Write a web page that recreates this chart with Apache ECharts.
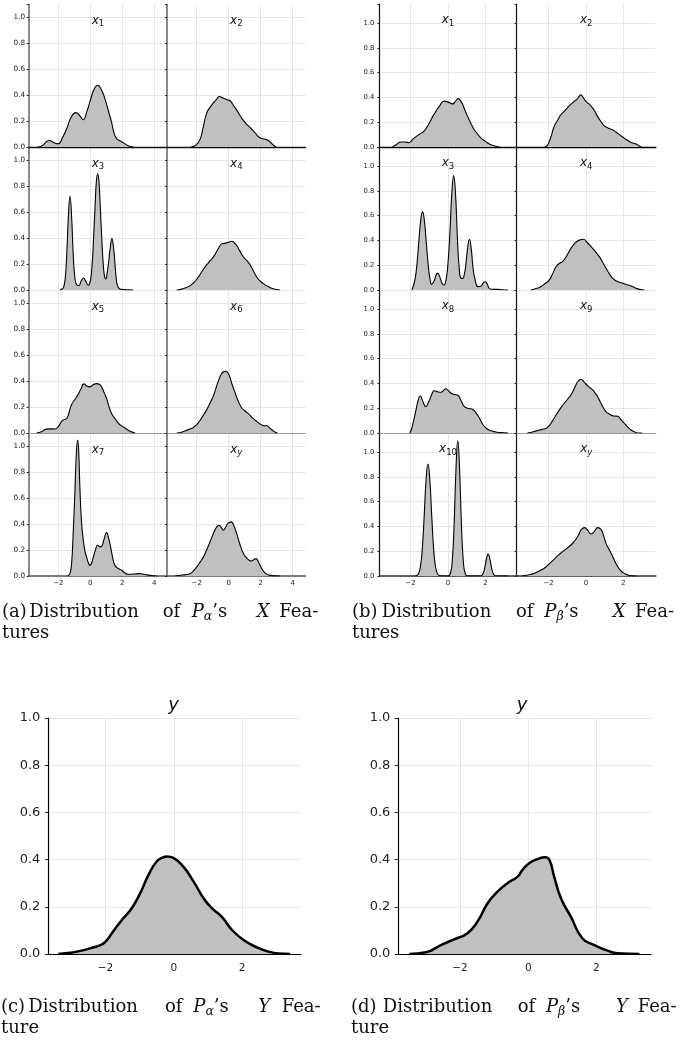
<!DOCTYPE html>
<html>
<head>
<meta charset="utf-8">
<title>Feature distributions</title>
<script src="https://cdn.jsdelivr.net/npm/echarts@6.0.0/dist/echarts.min.js"></script>
<style>
  html, body { margin: 0; padding: 0; background: #fff; }
  #main { width: 682px; height: 1043px; }
</style>
</head>
<body>
<div id="main"></div>
<script>
var chart = echarts.init(document.getElementById('main'));

// density curves, each point is [x, density]
var alphaX1 = [[-3.3,0],[-3.0,0.01],[-2.75,0.04],[-2.55,0.05],[-2.3,0.035],[-2.0,0.025],[-1.75,0.07],[-1.48,0.14],[-1.2,0.23],[-0.9,0.265],[-0.65,0.24],[-0.45,0.21],[-0.2,0.28],[0,0.36],[0.25,0.45],[0.46,0.477],[0.7,0.44],[0.92,0.37],[1.15,0.27],[1.33,0.19],[1.5,0.1],[1.65,0.065],[1.9,0.045],[2.1,0.03],[2.4,0.008],[2.7,0]];
var alphaX2 = [[-2.35,0],[-2.1,0.01],[-1.8,0.055],[-1.6,0.15],[-1.38,0.26],[-1.15,0.31],[-0.96,0.34],[-0.75,0.37],[-0.6,0.39],[-0.4,0.38],[-0.1,0.365],[0.1,0.355],[0.3,0.32],[0.5,0.285],[0.75,0.235],[1.02,0.19],[1.3,0.155],[1.5,0.13],[1.65,0.11],[1.85,0.08],[2.06,0.065],[2.3,0.06],[2.48,0.05],[2.7,0.025],[2.95,0]];
var alphaX3 = [[-1.9,0],[-1.75,0.01],[-1.67,0.02],[-1.57,0.085],[-1.47,0.28],[-1.37,0.57],[-1.27,0.724],[-1.17,0.57],[-1.07,0.28],[-0.97,0.1],[-0.87,0.045],[-0.72,0.035],[-0.55,0.075],[-0.42,0.093],[-0.28,0.065],[-0.12,0.035],[0.0,0.07],[0.1,0.17],[0.2,0.39],[0.3,0.65],[0.38,0.84],[0.46,0.897],[0.54,0.84],[0.62,0.65],[0.72,0.39],[0.82,0.18],[0.9,0.1],[0.97,0.085],[1.05,0.13],[1.15,0.22],[1.25,0.33],[1.35,0.397],[1.45,0.33],[1.55,0.19],[1.65,0.06],[1.75,0.02],[1.9,0.005],[2.7,0]];
var alphaX4 = [[-3.25,0],[-3.0,0.005],[-2.73,0.015],[-2.45,0.03],[-2.2,0.054],[-1.95,0.09],[-1.79,0.12],[-1.5,0.175],[-1.27,0.21],[-1.05,0.24],[-0.85,0.275],[-0.6,0.33],[-0.44,0.356],[-0.2,0.362],[0.0,0.368],[0.19,0.376],[0.35,0.365],[0.5,0.343],[0.7,0.3],[0.92,0.255],[1.15,0.225],[1.33,0.196],[1.55,0.145],[1.75,0.1],[1.95,0.07],[2.17,0.049],[2.45,0.028],[2.69,0.013],[2.95,0.004],[3.2,0]];
var alphaX5 = [[-3.35,0],[-3.05,0.01],[-2.75,0.03],[-2.45,0.032],[-2.2,0.031],[-2.0,0.05],[-1.79,0.09],[-1.6,0.105],[-1.45,0.115],[-1.3,0.17],[-1.17,0.22],[-0.95,0.26],[-0.75,0.3],[-0.55,0.35],[-0.4,0.379],[-0.2,0.36],[-0.02,0.356],[0.2,0.375],[0.4,0.381],[0.58,0.375],[0.71,0.355],[0.87,0.31],[1.02,0.265],[1.18,0.2],[1.33,0.15],[1.55,0.11],[1.75,0.077],[1.95,0.055],[2.17,0.039],[2.45,0.015],[2.8,0]];
var alphaX6 = [[-3.25,0],[-2.9,0.008],[-2.52,0.026],[-2.25,0.04],[-2.0,0.064],[-1.7,0.115],[-1.38,0.18],[-1.15,0.235],[-0.96,0.285],[-0.8,0.345],[-0.65,0.4],[-0.5,0.445],[-0.37,0.469],[-0.2,0.476],[-0.1,0.472],[0.05,0.44],[0.2,0.38],[0.4,0.31],[0.6,0.245],[0.81,0.195],[1.02,0.17],[1.23,0.15],[1.5,0.115],[1.75,0.09],[1.95,0.07],[2.17,0.057],[2.38,0.056],[2.55,0.04],[2.7,0.025],[2.85,0.01],[3.05,0]];
var alphaX7 = [[-1.4,0],[-1.27,0.02],[-1.17,0.095],[-1.07,0.33],[-0.96,0.66],[-0.87,0.95],[-0.79,1.05],[-0.72,0.95],[-0.65,0.68],[-0.55,0.42],[-0.44,0.28],[-0.33,0.19],[-0.23,0.147],[-0.12,0.1],[-0.02,0.082],[0.08,0.1],[0.19,0.147],[0.32,0.2],[0.46,0.237],[0.6,0.225],[0.71,0.229],[0.85,0.28],[1.02,0.335],[1.15,0.29],[1.27,0.224],[1.4,0.14],[1.54,0.082],[1.75,0.058],[1.96,0.044],[2.15,0.025],[2.38,0.013],[2.7,0.015],[3.1,0.018],[3.4,0.012],[3.73,0.005],[4.15,0]];
var alphaXY = [[-3.35,0],[-2.9,0.008],[-2.42,0.018],[-2.2,0.04],[-2.0,0.07],[-1.8,0.105],[-1.58,0.147],[-1.38,0.2],[-1.17,0.263],[-1.0,0.315],[-0.85,0.358],[-0.7,0.385],[-0.6,0.392],[-0.47,0.375],[-0.33,0.353],[-0.2,0.375],[-0.06,0.405],[0.15,0.418],[0.3,0.395],[0.5,0.327],[0.7,0.245],[0.92,0.173],[1.15,0.135],[1.3,0.12],[1.44,0.116],[1.6,0.13],[1.71,0.134],[1.85,0.11],[2.06,0.057],[2.3,0.02],[2.58,0.005],[3.2,0]];

var betaX1 = [[-2.96,0],[-2.75,0.02],[-2.52,0.04],[-2.3,0.04],[-2.07,0.035],[-1.9,0.06],[-1.71,0.084],[-1.5,0.105],[-1.27,0.13],[-1.05,0.18],[-0.82,0.245],[-0.62,0.295],[-0.46,0.33],[-0.2,0.37],[-0.02,0.364],[0.25,0.348],[0.4,0.37],[0.55,0.39],[0.68,0.37],[0.79,0.34],[0.92,0.29],[1.05,0.245],[1.22,0.19],[1.41,0.137],[1.6,0.1],[1.77,0.07],[2.0,0.045],[2.2,0.024],[2.45,0.01],[2.75,0]];
var betaX2 = [[-2.2,0],[-2.05,0.015],[-1.96,0.043],[-1.83,0.1],[-1.7,0.164],[-1.5,0.22],[-1.34,0.26],[-1.15,0.29],[-0.98,0.318],[-0.8,0.345],[-0.625,0.367],[-0.45,0.39],[-0.27,0.42],[-0.15,0.4],[0.0,0.367],[0.18,0.345],[0.36,0.313],[0.5,0.28],[0.625,0.245],[0.8,0.205],[0.98,0.17],[1.2,0.152],[1.43,0.137],[1.65,0.115],[1.875,0.089],[2.1,0.065],[2.32,0.043],[2.5,0.032],[2.68,0.024],[2.85,0.008],[2.95,0]];
var betaX3 = [[-1.93,0],[-1.86,0.028],[-1.76,0.085],[-1.66,0.205],[-1.56,0.384],[-1.46,0.557],[-1.36,0.632],[-1.26,0.557],[-1.16,0.384],[-1.06,0.205],[-0.96,0.085],[-0.88,0.045],[-0.75,0.07],[-0.62,0.125],[-0.55,0.134],[-0.45,0.11],[-0.32,0.055],[-0.22,0.04],[-0.1,0.09],[0.0,0.22],[0.1,0.46],[0.2,0.775],[0.3,0.922],[0.4,0.775],[0.5,0.42],[0.6,0.17],[0.7,0.095],[0.79,0.094],[0.86,0.12],[0.94,0.19],[1.04,0.33],[1.14,0.409],[1.24,0.33],[1.34,0.17],[1.45,0.08],[1.59,0.027],[1.75,0.03],[1.87,0.055],[1.98,0.067],[2.1,0.045],[2.2,0.013],[2.4,0.005],[2.66,0.005],[2.9,0.002],[3.2,0]];
var betaX4 = [[-2.95,0],[-2.7,0.01],[-2.41,0.027],[-2.2,0.05],[-1.96,0.08],[-1.78,0.13],[-1.6,0.188],[-1.42,0.215],[-1.25,0.228],[-1.05,0.27],[-0.8,0.336],[-0.6,0.375],[-0.45,0.395],[-0.3,0.405],[-0.125,0.409],[0.05,0.385],[0.27,0.35],[0.5,0.31],[0.71,0.269],[0.9,0.22],[1.07,0.175],[1.25,0.13],[1.43,0.094],[1.65,0.07],[1.875,0.059],[2.15,0.045],[2.41,0.032],[2.65,0.015],[2.86,0.005],[3.12,0]];
var betaX8 = [[-2.04,0],[-1.95,0.03],[-1.85,0.09],[-1.71,0.185],[-1.58,0.27],[-1.48,0.298],[-1.38,0.27],[-1.25,0.222],[-1.18,0.212],[-1.05,0.245],[-0.95,0.28],[-0.8,0.335],[-0.73,0.341],[-0.55,0.332],[-0.375,0.328],[-0.2,0.35],[-0.11,0.357],[0.0,0.345],[0.16,0.32],[0.35,0.31],[0.52,0.304],[0.7,0.26],[0.875,0.212],[1.1,0.198],[1.32,0.19],[1.5,0.16],[1.68,0.118],[1.85,0.07],[2.04,0.038],[2.25,0.02],[2.48,0.011],[2.8,0.003],[3.2,0]];
var betaX9 = [[-3.125,0],[-2.8,0.01],[-2.5,0.024],[-2.25,0.032],[-2.05,0.046],[-1.82,0.09],[-1.6,0.145],[-1.38,0.195],[-1.16,0.24],[-0.98,0.272],[-0.8,0.306],[-0.65,0.35],[-0.54,0.387],[-0.4,0.42],[-0.27,0.433],[-0.12,0.415],[0.0,0.395],[0.18,0.37],[0.36,0.347],[0.5,0.32],[0.625,0.293],[0.8,0.24],[0.98,0.19],[1.12,0.165],[1.25,0.153],[1.4,0.14],[1.52,0.137],[1.7,0.135],[1.85,0.11],[2.05,0.078],[2.25,0.045],[2.41,0.024],[2.6,0.008],[2.8,0],[3.0,0]];
var betaX10 = [[-1.75,0],[-1.67,0.004],[-1.57,0.019],[-1.47,0.077],[-1.37,0.225],[-1.27,0.487],[-1.17,0.774],[-1.07,0.903],[-0.97,0.774],[-0.87,0.487],[-0.77,0.225],[-0.67,0.077],[-0.57,0.019],[-0.47,0.004],[-0.3,0],[0.0,0],[0.12,0.018],[0.22,0.111],[0.32,0.393],[0.42,0.845],[0.52,1.09],[0.62,0.845],[0.72,0.393],[0.82,0.111],[0.92,0.018],[1.05,0],[1.74,0],[1.84,0.012],[1.94,0.054],[2.04,0.131],[2.14,0.177],[2.24,0.131],[2.34,0.054],[2.44,0.012],[2.54,0],[3.2,0]];
var betaXY = [[-3.39,0],[-3.1,0.008],[-2.77,0.02],[-2.5,0.04],[-2.23,0.062],[-1.95,0.1],[-1.7,0.134],[-1.47,0.168],[-1.25,0.196],[-1.0,0.225],[-0.8,0.25],[-0.62,0.28],[-0.45,0.317],[-0.35,0.345],[-0.27,0.371],[-0.09,0.39],[0.08,0.37],[0.27,0.339],[0.45,0.36],[0.625,0.39],[0.8,0.376],[0.95,0.32],[1.07,0.263],[1.25,0.21],[1.43,0.156],[1.6,0.1],[1.79,0.054],[2.0,0.025],[2.23,0.008],[2.45,0.002],[2.68,0]];

var alphaY = [[-3.38,0],[-3.1,0.004],[-2.84,0.01],[-2.45,0.024],[-2.1,0.041],[-1.95,0.06],[-1.81,0.088],[-1.52,0.144],[-1.23,0.194],[-0.985,0.257],[-0.74,0.335],[-0.5,0.392],[-0.3,0.41],[-0.2,0.413],[0,0.406],[0.28,0.37],[0.58,0.307],[0.87,0.236],[1.11,0.194],[1.4,0.158],[1.7,0.102],[2.04,0.059],[2.43,0.028],[2.77,0.01],[3.06,0.002],[3.4,0]];
var betaY = [[-3.49,0],[-3.0,0.007],[-2.56,0.038],[-2.17,0.062],[-1.78,0.088],[-1.49,0.137],[-1.19,0.215],[-0.9,0.264],[-0.61,0.3],[-0.31,0.328],[-0.17,0.356],[0.03,0.385],[0.27,0.402],[0.49,0.41],[0.62,0.399],[0.76,0.328],[0.96,0.236],[1.25,0.158],[1.59,0.066],[1.94,0.038],[2.33,0.014],[2.62,0.003],[3.26,0]];

var alphaCurves = [alphaX1, alphaX2, alphaX3, alphaX4, alphaX5, alphaX6, alphaX7, alphaXY];
var betaCurves = [betaX1, betaX2, betaX3, betaX4, betaX8, betaX9, betaX10, betaXY];
var alphaSubs = ['1', '2', '3', '4', '5', '6', '7', 'y'];
var betaSubs = ['1', '2', '3', '4', '8', '9', '10', 'y'];

var grids = [], xAxes = [], yAxes = [], series = [], texts = [];

function minusLabel(v) {
  return v < 0 ? '\u2212' + Math.abs(v) : String(v);
}
function evenLabel(v) {
  return Math.abs(v % 2) < 1e-6 ? minusLabel(v) : '';
}
function densLabel(v) {
  return v > 1.0001 ? '' : v.toFixed(1);
}

function addPlot(p) {
  var i = grids.length;
  grids.push({ left: p.left, top: p.top, width: p.width, height: p.height, outerBoundsMode: 'none' });
  xAxes.push({
    type: 'value', gridIndex: i, min: p.xMin, max: p.xMax, splitNumber: 4,
    axisLine: { show: !!p.base, onZero: false, lineStyle: p.base || {} },
    axisTick: { show: false },
    axisLabel: {
      show: !!p.xLabel, formatter: evenLabel, fontFamily: 'DejaVu Sans',
      fontSize: p.xLabel ? p.xLabel.size : 7, color: '#222',
      margin: p.xLabel ? p.xLabel.margin : 4
    },
    splitLine: { show: true, showMinLine: false, showMaxLine: false, lineStyle: { color: '#e6e6e6', width: 1 } }
  });
  yAxes.push({
    type: 'value', gridIndex: i, min: 0, max: p.yMax, interval: 0.2,
    axisLine: { show: true, onZero: false, lineStyle: p.spine },
    axisTick: { show: true, length: p.tickLen, lineStyle: { color: '#222', width: 1 } },
    axisLabel: {
      show: !!p.yLabel, formatter: densLabel, fontFamily: 'DejaVu Sans',
      fontSize: p.yLabel ? p.yLabel.size : 7, color: '#222',
      margin: p.yLabel ? p.yLabel.margin : 4
    },
    splitLine: { show: true, showMaxLine: p.yMax < 1.0001, lineStyle: { color: '#e6e6e6', width: 1 } }
  });
  series.push({
    type: 'line', xAxisIndex: i, yAxisIndex: i, data: p.data,
    symbol: 'none', smooth: 0.5, silent: true,
    lineStyle: { color: '#000', width: p.lineWidth },
    areaStyle: { color: '#c0c0c0', opacity: 1 }
  });
}

var subRich = {
  x: { fontFamily: 'DejaVu Sans', fontStyle: 'italic', fontSize: 12, color: '#222' },
  s: { fontFamily: 'DejaVu Sans', fontSize: 8.5, color: '#222', padding: [7, 0, 0, 0] },
  sy: { fontFamily: 'DejaVu Sans', fontStyle: 'italic', fontSize: 8.5, color: '#222', padding: [7, 0, 0, 0] }
};

function addText(x, y, text, rich, align) {
  texts.push({
    type: 'text', x: x, y: y, z: 100, silent: true,
    style: {
      text: text, rich: rich, fill: '#111',
      align: align, textAlign: align, verticalAlign: 'middle', textVerticalAlign: 'middle'
    }
  });
}

function smallPanel(curves, subs, cfg) {
  curves.forEach(function (data, k) {
    var row = Math.floor(k / 2), col = k % 2;
    var c = cfg.cols[col];
    var top = cfg.bases[row] - cfg.height;
    addPlot({
      left: c.left, top: top, width: c.width, height: cfg.height,
      xMin: c.xMin, xMax: c.xMax, yMax: cfg.yMax, data: data,
      base: cfg.baseLines[row], spine: cfg.spine, tickLen: 2,
      xLabel: row === 3 ? { size: 7, margin: 3.7 } : null,
      yLabel: col === 0 ? { size: cfg.labelSize, margin: cfg.labelMargin } : null,
      lineWidth: 1.1
    });
    var sub = subs[k];
    var txt = '{x|x}{' + (sub === 'y' ? 'sy' : 's') + '|' + sub + '}';
    addText(c.left + c.width / 2, top + 16, txt, subRich, 'center');
  });
}

smallPanel(alphaCurves, alphaSubs, {
  cols: [
    { left: 28.7, width: 138.4, xMin: -3.85, xMax: 4.8 },
    { left: 167.1, width: 138.4, xMin: -3.85, xMax: 4.8 }
  ],
  bases: [147, 290, 433, 576], height: 142.5, yMax: 1.1,
  spine: { color: '#6e6e6e', width: 1.6 },
  baseLines: [{ color: '#111', width: 1.3 }, null, { color: '#999', width: 1 }, { color: '#555', width: 1.6 }],
  labelSize: 7.3, labelMargin: 3.5
});

smallPanel(betaCurves, betaSubs, {
  cols: [
    { left: 379.4, width: 137.25, xMin: -3.66, xMax: 3.66 },
    { left: 516.6, width: 139.3, xMin: -3.7, xMax: 3.73 }
  ],
  bases: [147, 290, 433, 576], height: 143, yMax: 1.153,
  spine: { color: '#111', width: 1.2 },
  baseLines: [{ color: '#000', width: 1.3 }, null, { color: '#999', width: 1 }, { color: '#333', width: 1.6 }],
  labelSize: 6.8, labelMargin: 5
});

// the two larger y plots
[
  { left: 48.3, xMin: -3.67, xMax: 3.72, data: alphaY, title: 173.5 },
  { left: 398.3, xMin: -3.81, xMax: 3.6, data: betaY, title: 522 }
].forEach(function (b) {
  addPlot({
    left: b.left, top: 718, width: 252.7, height: 236,
    xMin: b.xMin, xMax: b.xMax, yMax: 1.0, data: b.data,
    base: { color: '#000', width: 1.2 }, spine: { color: '#000', width: 1.2 }, tickLen: 3.5,
    xLabel: { size: 10.5, margin: 9 }, yLabel: { size: 13, margin: 8 },
    lineWidth: 2.5
  });
  addText(b.title, 705, '{t|y}', {
    t: { fontFamily: 'DejaVu Sans', fontStyle: 'italic', fontSize: 18, color: '#000' }
  }, 'center');
});

// sub-figure captions, word by word as justified in the source
var capRich = {
  n: { fontFamily: 'DejaVu Serif', fontSize: 18, color: '#1a1a1a' },
  i: { fontFamily: 'DejaVu Serif', fontStyle: 'italic', fontSize: 18, color: '#1a1a1a' },
  s: { fontFamily: 'DejaVu Serif', fontStyle: 'italic', fontSize: 12.5, color: '#1a1a1a', padding: [9, 0, 0, 0] }
};
var captions = [
  { tag: '(a)', p: 'α', v: 'X', end: 'tures', xs: [2, 29.3, 162.7, 191.7, 256.7, 279.3], y: 612 },
  { tag: '(b)', p: 'β', v: 'X', end: 'tures', xs: [352, 381.7, 516, 544.3, 612.7, 635], y: 612 },
  { tag: '(c)', p: 'α', v: 'Y', end: 'ture', xs: [1, 28.3, 165, 193.3, 258.3, 281.7], y: 1007 },
  { tag: '(d)', p: 'β', v: 'Y', end: 'ture', xs: [351, 382.7, 517.7, 546, 616, 637.7], y: 1007 }
];
captions.forEach(function (c) {
  var words = ['{n|' + c.tag + '}', '{n|Distribution}', '{n|of}',
    '{i|P}{s|' + c.p + '}{n|\u2019s}', '{i|' + c.v + '}', '{n|Fea-}'];
  words.forEach(function (w, k) {
    addText(c.xs[k], c.y, w, capRich, 'left');
  });
  addText(c.xs[0], c.y + 21, '{n|' + c.end + '}', capRich, 'left');
});

var option = {
  animation: false,
  backgroundColor: '#fff',
  grid: grids,
  xAxis: xAxes,
  yAxis: yAxes,
  series: series,
  graphic: { elements: texts }
};

chart.setOption(option);

window.onresize = chart.resize;
</script>
</body>
</html>
